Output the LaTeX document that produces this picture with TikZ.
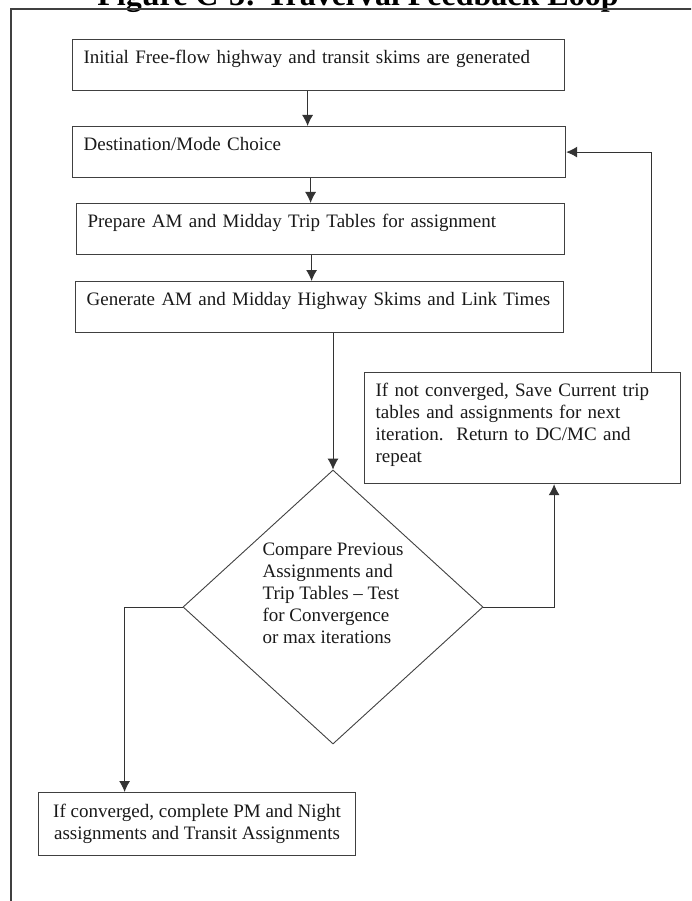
\documentclass[tikz,border=0pt]{standalone}
\usepackage{fontspec}
\setmainfont{Liberation Serif}
\usepackage{tikz}
\usetikzlibrary{shapes.geometric}
\usetikzlibrary{positioning}
\usetikzlibrary{arrows.meta}
\definecolor{rahmengrau}{gray}{0.25}
\definecolor{linie}{gray}{0.2}
\definecolor{schrift}{gray}{0.1}

\tikzset{
  stepbox/.style={draw=rahmengrau, line width=1.2pt, anchor=north west,
    inner xsep=11pt, inner ysep=0pt, text height=24pt, text depth=27pt,
    align=left, text=schrift},
  pfeil/.style={draw=linie, line width=0.9pt, -{Latex[length=11pt,width=11pt]}},
  linie/.style={draw=linie, line width=0.9pt}
}

\begin{document}
\begin{tikzpicture}[x=1pt, y=-1pt, font=\fontsize{19}{22}\selectfont]
\def\breite{691}
\def\hoehe{901}
% Seitenrand
\useasboundingbox (0,0) rectangle (\breite,\hoehe);
\clip (0,0) rectangle (\breite,\hoehe);

% Titel (oben abgeschnitten)
\node[anchor=base, font=\fontsize{32}{36}\selectfont\bfseries, inner sep=0pt] (titel) at (358,6) {Figure C-3: TravelVal Feedback Loop};

% Rahmen
\draw[rahmengrau, line width=1.5pt] (11,\hoehe+20) -- (11,9) -- (\breite+20,9);

% Kaesten
\node[stepbox, text width=470pt] (init) at (72,39) {Initial Free-flow highway and transit skims are generated};
\node[stepbox, text width=471pt] (dest) at (72,126) {Destination/Mode Choice};
\node[stepbox, text width=466pt] (prep) at (76,203) {Prepare AM and Midday Trip Tables for assignment};
\node[stepbox, text width=466pt] (gen) at (75,281) {Generate AM and Midday Highway Skims and Link Times};

% Rueckkopplung
\node[stepbox, text width=294pt, text depth=87pt] (redo) at (364,372)
  {If not converged, Save Current trip\\ tables and assignments for next\\ iteration.\ \ Return to DC/MC and\\ repeat};

% Entscheidung
\node[diamond, draw=rahmengrau, line width=0.9pt, minimum width=300pt, minimum height=274pt, inner sep=0pt] (test) at (333,607) {};
\node[align=left, text=schrift, inner sep=0pt] (testtext) at ([yshift=14pt]test.center)
  {Compare Previous\\ Assignments and\\ Trip Tables -- Test\\ for Convergence\\ or max iterations};

% Ende
\node[draw=rahmengrau, line width=1.2pt, anchor=north west, minimum width=317pt, minimum height=63pt,
  inner sep=0pt, align=center, text=schrift] (done) at (38,792)
  {If converged, complete PM and Night\\ assignments and Transit Assignments};

% Pfeile
\draw[pfeil] ([xshift=-11pt]init.south) -- ([xshift=-11pt]init.south |- dest.north);
\draw[pfeil] ([xshift=-8.5pt]dest.south) -- ([xshift=-8.5pt]dest.south |- prep.north);
\draw[pfeil] ([xshift=-9pt]prep.south) -- ([xshift=-9pt]prep.south |- gen.north);
\draw[pfeil] (gen.south -| test.north) -- (test.north);
\draw[pfeil] (test.east) -| ([xshift=31.5pt]redo.south);
\draw[pfeil] ([xshift=128.5pt]redo.north) |- (dest.east);
\draw[pfeil] (test.west) -| ([xshift=-72.5pt]done.north);
\end{tikzpicture}
\end{document}
